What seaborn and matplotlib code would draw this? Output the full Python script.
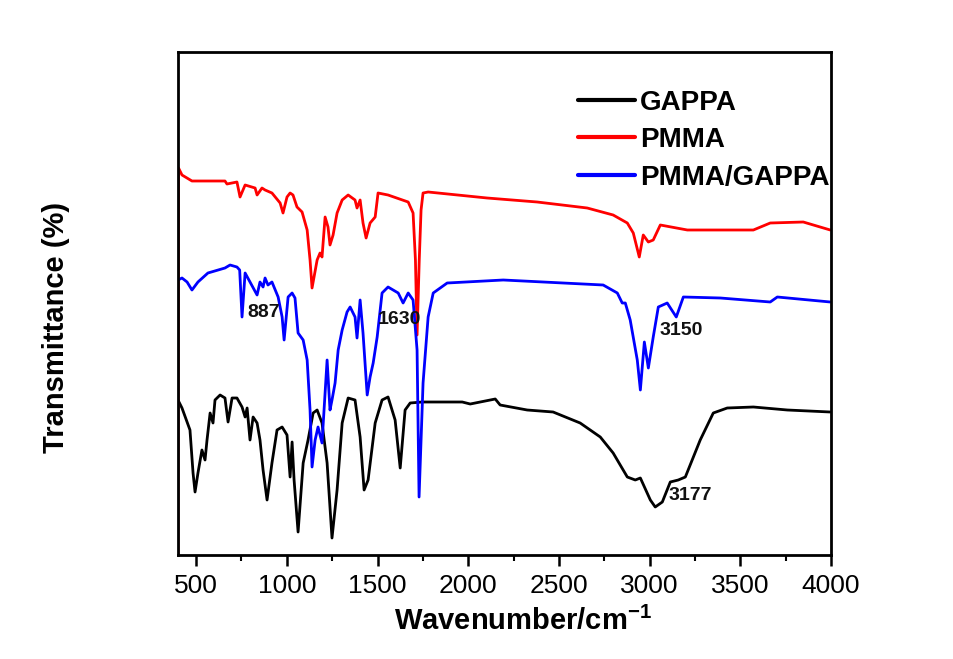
import matplotlib
matplotlib.use("Agg")
import matplotlib.pyplot as plt
import seaborn as sns
import pandas as pd
from matplotlib.ticker import MultipleLocator, NullLocator

# ---------------- data ----------------
gappa_wn = [400, 422, 450, 466, 483, 494, 510, 532, 549, 560, 577, 593, 604, 632, 659, 676, 698,
            725, 753, 770, 781, 797, 814, 836, 852, 869, 891, 918, 946, 974, 1001, 1018, 1029,
            1040, 1062, 1090, 1117, 1145, 1167, 1194, 1222, 1249, 1277, 1305, 1338, 1376, 1404,
            1426, 1448, 1487, 1525, 1558, 1597, 1625, 1652, 1680, 1746, 1818, 1967, 2011, 2149,
            2176, 2325, 2468, 2617, 2728, 2799, 2877, 2921, 2949, 3004, 3031, 3070, 3114, 3158,
            3197, 3279, 3351, 3428, 3572, 3759, 3996]
gappa_t = [155, 147, 133, 125, 82, 63, 82, 105, 95, 115, 142, 132, 155, 160, 157, 133, 157,
           157, 148, 138, 147, 115, 138, 132, 115, 85, 55, 92, 125, 128, 120, 78, 113,
           75, 23, 92, 115, 142, 145, 132, 92, 17, 65, 132, 157, 155, 118,
           65, 75, 132, 155, 158, 135, 87, 145, 152, 153, 153, 153, 151, 156,
           150, 145, 143, 132, 118, 102, 78, 75, 77, 55, 48, 53, 73, 75,
           78, 115, 142, 147, 148, 145, 143]

pmma_wn = [400, 403, 422, 477, 659, 670, 725, 742, 770, 825, 836, 863, 880, 918, 963, 979, 1001,
           1018, 1034, 1056, 1084, 1112, 1128, 1139, 1167, 1183, 1194, 1211, 1227, 1238, 1255,
           1277, 1305, 1338, 1376, 1387, 1404, 1420, 1437, 1459, 1487, 1503, 1558, 1669, 1696,
           1709, 1718, 1730, 1740, 1751, 1779, 2104, 2380, 2656, 2799, 2877, 2910, 2943, 2965,
           2993, 3020, 3059, 3208, 3572, 3665, 3847, 3996]
pmma_t = [0, 387, 380, 374, 374, 371, 373, 358, 370, 367, 360, 367, 365, 362, 352, 342, 358,
          362, 360, 348, 343, 325, 295, 267, 295, 302, 298, 338, 328, 310, 320,
          342, 355, 360, 355, 347, 355, 332, 317, 332, 338, 362, 360, 353, 342,
          295, 220, 295, 345, 362, 363, 357, 353, 347, 340, 332, 322, 298, 320,
          313, 315, 330, 325, 325, 332, 333, 325]

blend_wn = [400, 422, 450, 477, 510, 565, 659, 687, 725, 740, 753, 770, 797, 836, 852, 869, 880,
            896, 918, 952, 974, 985, 1007, 1029, 1045, 1062, 1090, 1112, 1128, 1139, 1156, 1172,
            1194, 1222, 1238, 1249, 1266, 1283, 1305, 1332, 1349, 1376, 1387, 1404, 1420, 1443,
            1459, 1476, 1498, 1525, 1558, 1614, 1641, 1669, 1696, 1718, 1729, 1751, 1779, 1807,
            1884, 2193, 2744, 2822, 2849, 2866, 2893, 2932, 2949, 2971, 2993, 3020, 3048, 3097,
            3147, 3186, 3390, 3665, 3704, 3996]
blend_t = [275, 277, 273, 265, 273, 282, 287, 290, 288, 285, 238, 282, 273, 260, 273, 268, 277,
           270, 273, 258, 238, 215, 258, 262, 257, 222, 215, 195, 145, 88, 115, 128,
           112, 195, 145, 155, 172, 205, 225, 243, 248, 238, 217, 255, 222, 160,
           178, 192, 218, 262, 268, 262, 252, 262, 255, 205, 58, 172, 238, 262,
           272, 275, 270, 262, 252, 252, 235, 195, 165, 213, 187, 218, 248, 252,
           238, 258, 257, 253, 258, 253]

series_names = ["GAPPA", "PMMA", "PMMA/GAPPA"]
series_colors = ["#000000", "#ff0000", "#0000ff"]

peak_labels = ["887", "1630", "3150", "3177"]
peak_wn = [874, 1619, 3175, 3224]
peak_t = [242, 235, 224, 60]

x_ticks = [500, 1000, 1500, 2000, 2500, 3000, 3500, 4000]

# ---------------- figure ----------------
sns.set_theme(style="white")
plt.rcParams["font.family"] = ["Liberation Sans", "DejaVu Sans"]
plt.rcParams["mathtext.fontset"] = "custom"
plt.rcParams["mathtext.rm"] = "Liberation Sans"
plt.rcParams["mathtext.bf"] = "Liberation Sans:bold"
plt.rcParams["text.color"] = "black"
plt.rcParams["axes.labelcolor"] = "black"
plt.rcParams["xtick.color"] = "black"
plt.rcParams["ytick.color"] = "black"

frames = []
for name, wn, t in [("GAPPA", gappa_wn, gappa_t), ("PMMA", pmma_wn, pmma_t),
                    ("PMMA/GAPPA", blend_wn, blend_t)]:
    frames.append(pd.DataFrame({"wavenumber": wn, "T": t, "sample": name}))
df = pd.concat(frames, ignore_index=True)

fig = plt.figure(figsize=(9.54, 6.59), dpi=100)
ax = fig.add_axes([178 / 954, 104 / 659, 653 / 954, 503 / 659])

sns.lineplot(data=df, x="wavenumber", y="T", hue="sample", hue_order=series_names,
             palette=dict(zip(series_names, series_colors)), sort=False, estimator=None,
             linewidth=2.0, ax=ax)

ax.set_xlim(400, 4000)
ax.set_ylim(0, 503)
ax.set_xticks(x_ticks)
ax.xaxis.set_minor_locator(MultipleLocator(250))
ax.yaxis.set_major_locator(NullLocator())
ax.tick_params(axis="x", which="major", direction="out", length=8, width=1.8,
               labelsize=19, pad=6, color="black", labelcolor="black", bottom=True)
ax.tick_params(axis="x", which="minor", direction="out", length=4, width=1.5,
               color="black", bottom=True)
for s in ax.spines.values():
    s.set_color("black")
    s.set_linewidth(2.0)

ax.set_xlabel(r"Wavenumber/cm$^{\mathbf{-1}}$", fontsize=21, fontweight="bold", color="black")
ax.set_ylabel("Transmittance (%)", fontsize=21, fontweight="bold", color="black")
ax.xaxis.set_label_coords(0.528, -0.103)
ax.yaxis.set_label_coords(-0.165, 0.453)

for lab, x, y in zip(peak_labels, peak_wn, peak_t):
    ax.text(x, y, lab, ha="center", va="center", fontsize=14, fontweight="bold",
            color="#111111")

leg = ax.legend(loc="upper left", bbox_to_anchor=(0.591, 0.953), frameon=False,
                borderpad=0, handlelength=2.05, handletextpad=0.2, labelspacing=0.42,
                prop={"size": 20, "weight": "bold"}, title=None)
for txt in leg.get_texts():
    txt.set_color("black")
for h in leg.get_lines():
    h.set_linewidth(3)

fig.savefig("out.png", dpi=100, facecolor="white")
